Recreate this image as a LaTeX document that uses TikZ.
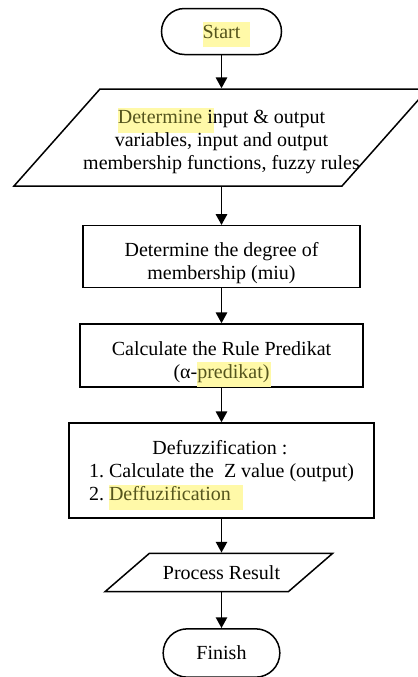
\documentclass[tikz,border=0pt]{standalone}
\usepackage{fontspec}
\setmainfont{Liberation Serif}
\usepackage{tikz}
\usetikzlibrary{arrows.meta}

\definecolor{hlyellow}{RGB}{255,249,168}
\definecolor{hltext}{RGB}{85,85,30}
\newcommand{\hilite}[2][6pt]{\setbox0\hbox{\textcolor{hltext}{#2}}\rlap{\smash{\textcolor{hlyellow}{\rule[-5.5pt]{\dimexpr\wd0+#1\relax}{15pt}}}}\box0\relax}
\newcommand{\drop}[1]{\rule{0pt}{#1}}
\frenchspacing

\begin{document}
\begin{tikzpicture}[x=0.6pt,y=-0.6pt,line width=0.9pt,
    every node/.style={font=\fontsize{12}{13.8}\selectfont,align=center,inner sep=0pt},
    terminal/.style={draw,rectangle,rounded corners=13.8pt,minimum height=27.6pt},
    process/.style={draw,rectangle},
    io/.style={rectangle},
    flow/.style={-{Triangle[width=6.8pt,length=6.5pt]},line width=1.1pt}]
    \useasboundingbox (0,0) rectangle (417,677);
    %%%%% THE STEPS
    \node[terminal,minimum width=72pt] (START) at (221.5,31.5) {\hilite{Start}};
    \node[io,minimum height=58.2pt] (INPUT) at (221.5,137.5)
      {\drop{13.5pt}\hilite[7pt]{Determine} input \& output\\ variables, input and output\\ membership functions, fuzzy rules};
    \node[process,minimum width=166.2pt,minimum height=37.2pt] (DEGREE) at (221.5,256.7)
      {\drop{16pt}Determine the degree of\\ membership (miu)};
    \node[process,minimum width=169.8pt,minimum height=37.8pt] (RULE) at (221.5,355.5)
      {\drop{16pt}Calculate the Rule Predikat\\ (α-\hilite[1pt]{predikat)}};
    \node[process,minimum width=183pt,minimum height=57pt,align=left] (DEFUZZ) at (221.5,470.5)
      {\makebox[157pt]{Defuzzification :}\\ 1. Calculate the~ Z value (output)\\ 2. \hilite[7pt]{Deffuzification}};
    \node[io,minimum height=23pt] (RESULT) at (221.5,572.5) {Process Result};
    \node[terminal,minimum width=70pt,minimum height=29pt,rounded corners=14.5pt] (FINISH) at (221.5,653) {Finish};
    %%%%% THE SLANTED BOXES
    \draw (INPUT.center) ++(-207.5,48.5) -- ++(328,0) -- ++(86,-97) -- ++(-328,0) -- cycle;
    \draw (RESULT.center) ++(-116.5,19.2) -- ++(183.3,0) -- ++(44.4,-38.4) -- ++(-183.3,0) -- cycle;
    %%%% THE FLOW
    \draw[flow] (START) -- (INPUT);
    \draw[flow] (INPUT) -- (DEGREE);
    \draw[flow] (DEGREE) -- (RULE);
    \draw[flow] (RULE) -- (DEFUZZ);
    \draw[flow] (DEFUZZ) -- (RESULT);
    \draw[flow] (RESULT) -- (FINISH);
\end{tikzpicture}
\end{document}
